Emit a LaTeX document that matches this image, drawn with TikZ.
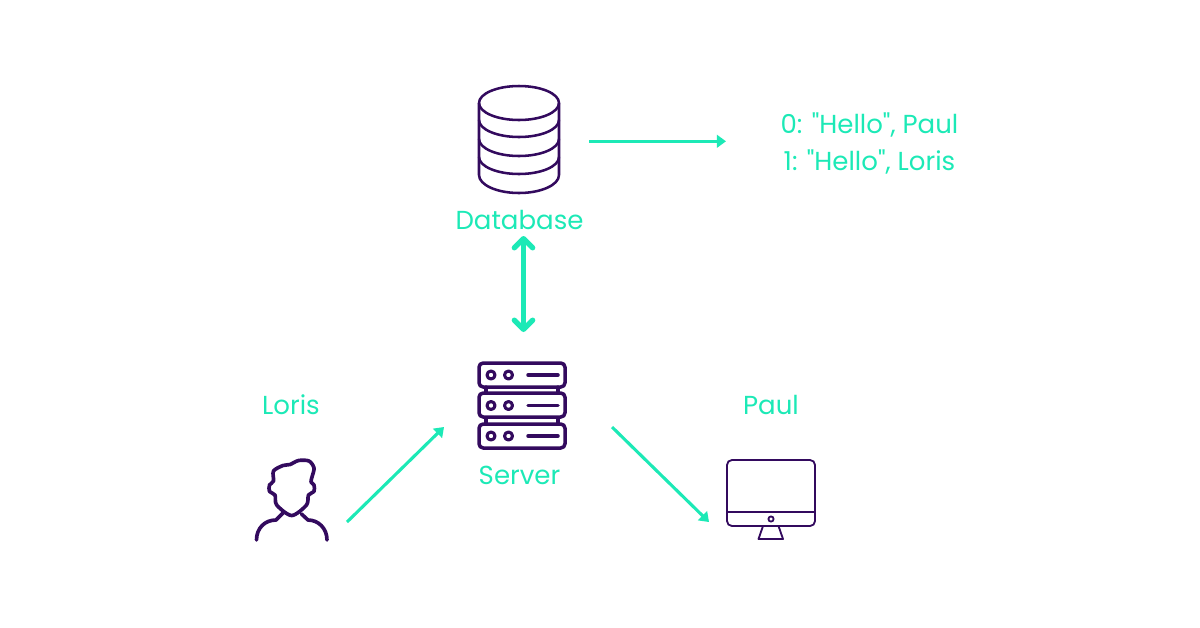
\documentclass[tikz,border=0pt]{standalone}
\usepackage{fontspec}
\setmainfont{Poppins}[Ligatures=TeXOff]
\usepackage{xcolor}
\usetikzlibrary{arrows.meta}
\definecolor{mint}{HTML}{1CE9B6}
\definecolor{plum}{HTML}{330A5E}

\begin{document}
\begin{tikzpicture}[
            x=0.025cm, y=-0.025cm,
            icon/.style={draw=plum, line width=1.8pt, line join=round, line cap=round},
            caption/.style={text=mint, font=\fontsize{18.5}{27}\selectfont, align=center, inner sep=0pt},
            data_flow/.style={-{Triangle[length=6.5pt, width=9pt]}, line width=2.2pt, mint},
            sync_flow/.style={{Straight Barb[round, length=6.5pt, width=13pt]}-{Straight Barb[round, length=6.5pt, width=13pt]}, line width=3.8pt, mint}
        ]
            \useasboundingbox (0,0) rectangle (1200,627);

% Database icon
            \draw[icon] (519,103) ellipse [x radius=40, y radius=17];
            \draw[icon] (479,103) -- (479,175) arc [start angle=180, end angle=0, x radius=40, y radius=18] -- (559,103);
            \foreach \yband in {120,139,157}
                \draw[icon] (479,\yband) arc [start angle=180, end angle=0, x radius=40, y radius=17];

% Server icon
            \foreach \ytop/\ymid in {363/375,393/405.5,424/436} {
                \draw[icon, line width=2.5pt, rounded corners=3pt] (479,\ytop) rectangle (565,\ytop+24);
                \draw[icon, line width=2.2pt] (491,\ymid) circle [radius=4];
                \draw[icon, line width=2.2pt] (508.5,\ymid) circle [radius=4];
                \draw[icon, line width=2.5pt] (528,\ymid) -- (558,\ymid);
            }
            \foreach \xpost in {486,558} {
                \draw[icon, line width=2.4pt] (\xpost,387) -- (\xpost,393);
                \draw[icon, line width=2.4pt] (\xpost,418) -- (\xpost,424);
            }

% Person icon
            \draw[icon, line width=2.6pt] plot[smooth cycle, tension=0.5] coordinates {
                (273.5,481) (273.5,471) (283,465.5) (290,464.5) (298.5,460.5) (309,461) (314,468)
                (312,477) (311,482) (314,485) (314,491.5) (308.5,495) (306.5,505)
                (291.7,515.5) (276.7,505) (275,495) (269.5,491.5) (269.5,485)};
            \draw[icon, line width=2.6pt] (256.5,540) .. controls (256.5,528) and (265,520) .. (276,520) -- (283,513);
            \draw[icon, line width=2.6pt] (327,540) .. controls (327,528) and (318,520) .. (308,520) -- (301.5,514);

% Monitor icon
            \draw[icon, line width=1.3pt, rounded corners=3.5pt] (727,460) rectangle (815,526);
            \draw[icon, line width=1.3pt] (727,512) -- (815,512);
            \draw[icon, line width=1.3pt] (771,519) circle [radius=2.6];
            \draw[icon, line width=1.3pt] (763,526) -- (758.5,539) -- (783,539) -- (778.5,526);

% Labels
            \node[caption] (database) at (519.5,220) {Database};
            \node[caption] (server) at (519.5,475) {Server};
            \node[caption] (loris) at (291,405) {Loris};
            \node[caption] (paul) at (771,405) {Paul};
            \node[caption] (records) at (869.5,143.5) {0: "Hello", Paul\\1: "Hello", Loris};

% Connector ends
            \coordinate (db_out) at (589,141.3);
            \coordinate (records_in) at (726,141.3);
            \coordinate (db_port) at (523.5,236);
            \coordinate (server_port) at (523.5,332);
            \coordinate (loris_out) at (347,522);
            \coordinate (server_in) at (444,427);
            \coordinate (server_out) at (612,427);
            \coordinate (paul_in) at (709,522);

% Flows
            \draw[data_flow] (db_out) -- (records_in);
            \draw[sync_flow] (db_port) -- (server_port);
            \draw[data_flow] (loris_out) -- (server_in);
            \draw[data_flow] (server_out) -- (paul_in);

        \end{tikzpicture}
\end{document}
